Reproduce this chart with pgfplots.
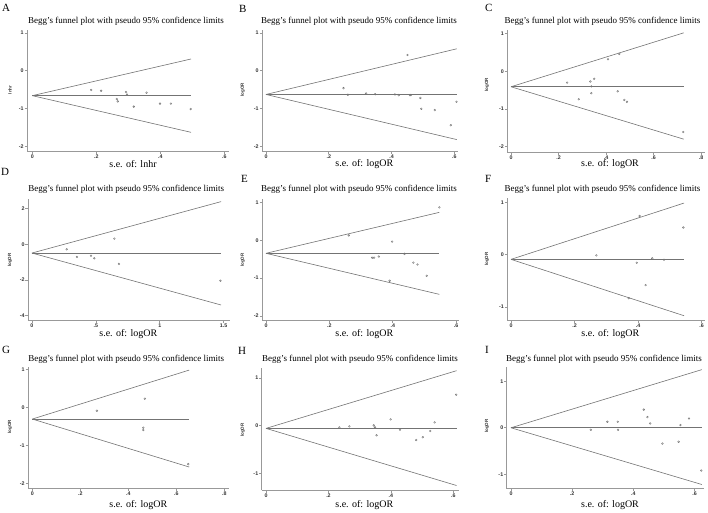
\documentclass[border=0pt]{standalone}
\usepackage{pgfplots}
\pgfplotsset{compat=1.18}
\usepackage{fontspec}
\setmainfont{Liberation Serif}
\newfontfamily\tickfont{Liberation Sans}

\definecolor{axgray}{gray}{0.6}
\definecolor{lngray}{gray}{0.45}
\definecolor{ptgray}{gray}{0.45}

\pgfplotsset{
  funnel/.style={
    scale only axis, anchor=south west, clip=false,
    axis x line*=bottom, axis y line*=left,
    axis line style={-, axgray, line width=0.9pt},
    tick align=outside, major tick length=2.5pt,
    every tick/.style={axgray, line width=0.6pt},
    ticklabel style={font=\tickfont\bfseries\fontsize{5.3}{6}\selectfont, text=black!80, inner sep=0.8pt},
  },
  fl/.style={lngray, line width=0.6pt, no marks},
  pt/.style={only marks, mark=o, mark size=0.9pt, ptgray, mark options={line width=0.4pt}},
}
\newcommand\ttl{Begg's funnel plot with pseudo 95\% confidence limits}

\begin{document}
\begin{tikzpicture}
\path[use as bounding box] (0pt,0pt) rectangle (708pt,512pt);

% A
\begin{axis}[funnel, at={(27pt,361pt)}, width=202.3pt, height=121pt,
  xmin=-0.0166, xmax=0.6156, ymin=-2.124, ymax=1.077,
  xtick={0,0.2,0.4,0.6}, xticklabels={0,.2,.4,.6},
  ytick={-2,-1,0,1}, yticklabels={-2,-1,0,1}]
\addplot[fl] coordinates {(0,-0.66) (0.496,0.31)};
\addplot[fl] coordinates {(0,-0.66) (0.496,-0.66)};
\addplot[fl] coordinates {(0,-0.66) (0.496,-1.63)};
\addplot[pt] coordinates {(0.184,-0.51) (0.215,-0.53) (0.293,-0.565) (0.296,-0.63)
  (0.264,-0.75) (0.267,-0.81) (0.357,-0.58) (0.317,-0.95) (0.399,-0.87)
  (0.433,-0.87) (0.495,-1.015)};
\end{axis}

% B
\begin{axis}[funnel, at={(262pt,360.3pt)}, width=195.7pt, height=121.7pt,
  xmin=-0.0127, xmax=0.611, ymin=-2.14, ymax=1.077,
  xtick={0,0.2,0.4,0.6}, xticklabels={0,.2,.4,.6},
  ytick={-2,-1,0,1}, yticklabels={-2,-1,0,1}]
\addplot[fl] coordinates {(0,-0.627) (0.608,0.58)};
\addplot[fl] coordinates {(0,-0.627) (0.608,-0.627)};
\addplot[fl] coordinates {(0,-0.627) (0.608,-1.82)};
\addplot[pt] coordinates {(0.247,-0.46) (0.261,-0.635) (0.319,-0.60) (0.348,-0.62)
  (0.411,-0.627) (0.423,-0.645) (0.459,-0.645) (0.462,-0.64) (0.451,0.415)
  (0.492,-0.72) (0.495,-1.006) (0.538,-1.04) (0.607,-0.82) (0.589,-1.44)};
\end{axis}

% C
\begin{axis}[funnel, at={(507.3pt,360pt)}, width=197.7pt, height=122pt,
  xmin=-0.0156, xmax=0.8165, ymin=-2.14, ymax=1.095,
  xtick={0,0.2,0.4,0.6,0.8}, xticklabels={0,.2,.4,.6,.8},
  ytick={-2,-1,0,1}, yticklabels={-2,-1,0,1}]
\addplot[fl] coordinates {(0,-0.41) (0.727,1.02)};
\addplot[fl] coordinates {(0,-0.41) (0.727,-0.41)};
\addplot[fl] coordinates {(0,-0.41) (0.727,-1.80)};
\addplot[pt] coordinates {(0.236,-0.30) (0.285,-0.74) (0.334,-0.27) (0.35,-0.20)
  (0.338,-0.40) (0.338,-0.58) (0.408,0.32) (0.456,0.46) (0.449,-0.53)
  (0.477,-0.76) (0.488,-0.81) (0.725,-1.61)};
\end{axis}

% D
\begin{axis}[funnel, at={(28pt,191.3pt)}, width=202pt, height=121.4pt,
  xmin=-0.031, xmax=1.55, ymin=-4.28, ymax=2.52,
  xtick={0,0.5,1,1.5}, xticklabels={0,.5,1,1.5},
  ytick={-4,-2,0,2}, yticklabels={-4,-2,0,2}]
\addplot[fl] coordinates {(0,-0.49) (1.48,2.39)};
\addplot[fl] coordinates {(0,-0.49) (1.48,-0.49)};
\addplot[fl] coordinates {(0,-0.49) (1.48,-3.40)};
\addplot[pt] coordinates {(0.272,-0.28) (0.352,-0.71) (0.462,-0.64) (0.488,-0.785)
  (0.645,0.32) (0.681,-1.10) (1.475,-2.04)};
\end{axis}

% E
\begin{axis}[funnel, at={(262pt,191.3pt)}, width=196.7pt, height=121.4pt,
  xmin=-0.0126, xmax=0.608, ymin=-2.127, ymax=1.085,
  xtick={0,0.2,0.4,0.6}, xticklabels={0,.2,.4,.6},
  ytick={-2,-1,0,1}, yticklabels={-2,-1,0,1}]
\addplot[fl] coordinates {(0,-0.344) (0.547,0.74)};
\addplot[fl] coordinates {(0,-0.344) (0.547,-0.344)};
\addplot[fl] coordinates {(0,-0.344) (0.547,-1.43)};
\addplot[pt] coordinates {(0.261,0.13) (0.398,-0.035) (0.335,-0.46) (0.341,-0.46)
  (0.356,-0.43) (0.437,-0.36) (0.465,-0.59) (0.478,-0.64) (0.507,-0.94)
  (0.39,-1.07) (0.547,0.87)};
\end{axis}

% F
\begin{axis}[funnel, at={(507.3pt,191.3pt)}, width=198pt, height=122.4pt,
  xmin=-0.0117, xmax=0.612, ymin=-1.261, ymax=1.078,
  xtick={0,0.2,0.4,0.6}, xticklabels={0,.2,.4,.6},
  ytick={-1,0,1}, yticklabels={-1,0,1}]
\addplot[fl] coordinates {(0,-0.089) (0.545,0.987)};
\addplot[fl] coordinates {(0,-0.089) (0.545,-0.089)};
\addplot[fl] coordinates {(0,-0.089) (0.545,-1.166)};
\addplot[pt] coordinates {(0.269,-0.013) (0.396,-0.153) (0.445,-0.07) (0.482,-0.096)
  (0.405,0.74) (0.543,0.52) (0.424,-0.58) (0.371,-0.83)};
\end{axis}

% G
\begin{axis}[funnel, at={(28pt,23.3pt)}, width=201.3pt, height=121.4pt,
  xmin=-0.018, xmax=0.821, ymin=-2.13, ymax=1.063,
  xtick={0,0.2,0.4,0.6,0.8}, xticklabels={0,.2,.4,.6,.8},
  ytick={-2,-1,0,1}, yticklabels={-2,-1,0,1}]
\addplot[fl] coordinates {(0,-0.298) (0.654,0.99)};
\addplot[fl] coordinates {(0,-0.298) (0.654,-0.298)};
\addplot[fl] coordinates {(0,-0.298) (0.654,-1.56)};
\addplot[pt] coordinates {(0.269,-0.079) (0.469,0.237) (0.4625,-0.526) (0.4625,-0.587)
  (0.65,-1.483)};
\end{axis}

% H
\begin{axis}[funnel, at={(261.7pt,22pt)}, width=197pt, height=121.7pt,
  xmin=-0.0138, xmax=0.617, ymin=-1.344, ymax=1.2,
  xtick={0,0.2,0.4,0.6}, xticklabels={0,.2,.4,.6},
  ytick={-1,0,1}, yticklabels={-1,0,1}]
\addplot[fl] coordinates {(0,-0.056) (0.61,1.15)};
\addplot[fl] coordinates {(0,-0.056) (0.61,-0.056)};
\addplot[fl] coordinates {(0,-0.056) (0.61,-1.25)};
\addplot[pt] coordinates {(0.235,-0.035) (0.267,-0.014) (0.345,0.007) (0.349,-0.035)
  (0.354,-0.20) (0.399,0.132) (0.429,-0.084) (0.481,-0.30) (0.502,-0.24)
  (0.526,-0.11) (0.54,0.07) (0.609,0.648)};
\end{axis}

% I
\begin{axis}[funnel, at={(506.7pt,23.3pt)}, width=197pt, height=121.4pt,
  xmin=-0.014, xmax=0.63, ymin=-1.31, ymax=1.3,
  xtick={0,0.2,0.4,0.6}, xticklabels={0,.2,.4,.6},
  ytick={-1,0,1}, yticklabels={-1,0,1}]
\addplot[fl] coordinates {(0,0.0) (0.624,1.25)};
\addplot[fl] coordinates {(0,0.0) (0.624,0.0)};
\addplot[fl] coordinates {(0,0.0) (0.624,-1.22)};
\addplot[pt] coordinates {(0.261,-0.043) (0.315,0.13) (0.349,0.13) (0.35,-0.043)
  (0.434,0.39) (0.446,0.23) (0.455,0.094) (0.495,-0.34) (0.548,-0.30)
  (0.554,0.058) (0.582,0.20) (0.622,-0.92)};
\end{axis}

% titles
\begin{scope}[every node/.style={font=\fontsize{9}{10}\selectfont, inner sep=0pt}]
\node at (126pt,491pt) {\ttl};
\node at (359pt,491pt) {\ttl};
\node at (602.5pt,491pt) {\ttl};
\node at (126.3pt,323pt) {\ttl};
\node at (359pt,323pt) {\ttl};
\node at (602.5pt,323pt) {\ttl};
\node at (126.3pt,152.7pt) {\ttl};
\node at (360pt,152.7pt) {\ttl};
\node at (604pt,152.7pt) {\ttl};
\end{scope}

% x labels
\begin{scope}[every node/.style={font=\fontsize{10}{12}\selectfont, inner sep=0pt}]
\node at (133pt,347.7pt) {s.e. of: lnhr};
\node at (364.3pt,347.7pt) {s.e. of: logOR};
\node at (610pt,347.7pt) {s.e. of: logOR};
\node at (128.3pt,178.3pt) {s.e. of: logOR};
\node at (364.3pt,178.3pt) {s.e. of: logOR};
\node at (610.3pt,178.3pt) {s.e. of: logOR};
\node at (138.3pt,7pt) {s.e. of: logOR};
\node at (364.3pt,7pt) {s.e. of: logOR};
\node at (610pt,7pt) {s.e. of: logOR};
\end{scope}

% y labels
\begin{scope}[every node/.style={rotate=90, font=\tickfont\bfseries\fontsize{4.5}{5}\selectfont, text=black!80}]
\node at (10pt,422pt) {lnhr};
\node at (242.7pt,422pt) {logOR};
\node at (487pt,427pt) {logOR};
\node at (10pt,252pt) {logOR};
\node at (242.7pt,252pt) {logOR};
\node at (487pt,253pt) {logOR};
\node at (10pt,85.3pt) {logOR};
\node at (242.7pt,82pt) {logOR};
\node at (487pt,86pt) {logOR};
\end{scope}

% panel letters
\begin{scope}[every node/.style={anchor=base west, inner sep=0pt, font=\fontsize{11}{12}\selectfont}]
\node at (2pt,500pt) {A};
\node at (239pt,499pt) {B};
\node at (485pt,500pt) {C};
\node at (1pt,336pt) {D};
\node at (241pt,330pt) {E};
\node at (485pt,329pt) {F};
\node at (2pt,159pt) {G};
\node at (238pt,158pt) {H};
\node at (485pt,159pt) {I};
\end{scope}
\end{tikzpicture}
\end{document}
